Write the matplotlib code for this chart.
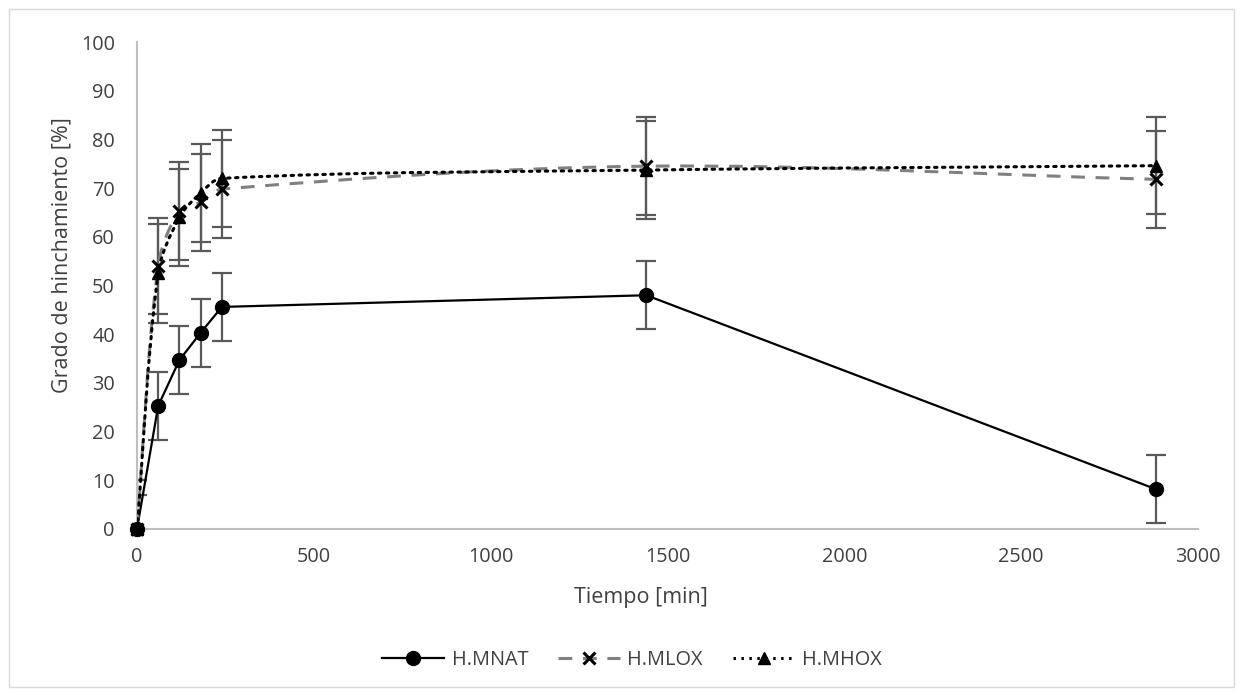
import numpy as np
import matplotlib
matplotlib.use("Agg")
import matplotlib.pyplot as plt
from matplotlib.path import Path
from matplotlib.patches import PathPatch, Rectangle
from matplotlib.lines import Line2D

# ---- data ----
tiempo = [0, 60, 120, 180, 240, 1440, 2880]
h_mnat = [0, 25.3, 34.7, 40.3, 45.6, 48.0, 8.2]
h_mlox = [0, 54.0, 65.3, 67.1, 69.8, 74.5, 71.8]
h_mhox = [0, 52.5, 64.0, 69.0, 72.0, 73.7, 74.6]
err_mnat = [7, 7, 7, 7, 7, 7, 7]
err_mlox = [10, 9.8, 10, 10, 10, 10, 10]
err_mhox = [10, 10.1, 10, 10, 10, 10, 10]
series_names = ["H.MNAT", "H.MLOX", "H.MHOX"]
x_ticks = [0, 500, 1000, 1500, 2000, 2500, 3000]
y_ticks = [0, 10, 20, 30, 40, 50, 60, 70, 80, 90, 100]

plt.rcParams['font.family'] = ['Open Sans', 'DejaVu Sans']
W, H = 1243, 696
FS = 14.3
LFS = 15.5
TXT = '#404040'
fig = plt.figure(figsize=(W / 100, H / 100), dpi=100)
fig.patches.append(Rectangle((9 / W, 9 / H), (W - 18) / W, (H - 18) / H,
                             transform=fig.transFigure, fill=False,
                             edgecolor='#d9d9d9', linewidth=1.0))

ax = fig.add_axes([137 / W, (H - 529) / H, (1198 - 137) / W, (529 - 42) / H])
ax.set_xlim(0, 3000)
ax.set_ylim(0, 100)
ax.set_xticks(x_ticks)
ax.set_yticks(y_ticks)
for s in ['top', 'right']:
    ax.spines[s].set_visible(False)
for s in ['left', 'bottom']:
    ax.spines[s].set_color('#bfbfbf')
    ax.spines[s].set_linewidth(1.5)
ax.tick_params(axis='both', length=0, labelsize=FS, colors=TXT)
ax.tick_params(axis='y', pad=16)
ax.tick_params(axis='x', pad=13)

ecol = '#595959'


def smooth_path(x, y, k=0.33):
    pts = ax.transData.transform(np.column_stack([x, y]))
    n = len(pts)
    tang = []
    for i in range(n):
        d = pts[min(i + 1, n - 1)] - pts[max(i - 1, 0)]
        nrm = np.hypot(*d)
        tang.append(d / nrm if nrm > 0 else d)
    verts = [pts[0]]
    codes = [Path.MOVETO]
    for i in range(n - 1):
        p1 = pts[i]
        p2 = pts[i + 1]
        L = np.hypot(*(p2 - p1))
        c1 = p1 + tang[i] * L * k
        c2 = p2 - tang[i + 1] * L * k
        verts += [c1, c2, p2]
        codes += [Path.CURVE4] * 3
    verts = ax.transData.inverted().transform(np.array(verts))
    return Path(verts, codes)


# error bars
for yv, ev in [(h_mnat, err_mnat), (h_mlox, err_mlox), (h_mhox, err_mhox)]:
    ax.errorbar(tiempo, yv, yerr=ev, fmt='none', ecolor=ecol,
                elinewidth=1.6, capsize=7.5, capthick=1.6, zorder=2)

# lines
ax.plot(tiempo, h_mnat, color='black', linewidth=1.6, zorder=3)
ax.add_patch(PathPatch(smooth_path(tiempo, h_mlox), fill=False,
                       edgecolor='#808080', linewidth=2.2,
                       linestyle=(0, (4.5, 3.5)), zorder=3))
ax.add_patch(PathPatch(smooth_path(tiempo, h_mhox), fill=False,
                       edgecolor='black', linewidth=2.2,
                       linestyle=(0, (0.8, 1.8)), zorder=3, capstyle='round'))

# markers
ax.plot(tiempo, h_mnat, linestyle='none', marker='o', markersize=10,
        color='black', clip_on=False, zorder=5)
ax.plot(tiempo, h_mlox, linestyle='none', marker='x', markersize=8.5,
        markeredgewidth=2.2, color='black', clip_on=False, zorder=5)
ax.plot(tiempo, h_mhox, linestyle='none', marker='^', markersize=9,
        color='black', clip_on=False, zorder=5)

fig.text(641 / W, 1 - 597 / H, 'Tiempo [min]', ha='center', va='center',
         fontsize=LFS, color=TXT)
fig.text(62 / W, 1 - 255 / H, 'Grado de hinchamiento [%]', rotation=90,
         ha='center', va='center', fontsize=LFS, color=TXT)

handles = [
    Line2D([], [], color='black', linewidth=1.6, marker='o', markersize=10),
    Line2D([], [], color='#808080', linewidth=2.2, linestyle=(0, (4.5, 3.5)),
           marker='x', markersize=8.5, markeredgewidth=2.2,
           markeredgecolor='black'),
    Line2D([], [], color='black', linewidth=2.2, linestyle=(0, (0.8, 1.8)),
           marker='^', markersize=9),
]
fig.legend(handles, series_names, loc='center', ncol=3,
           bbox_to_anchor=(632 / W, 1 - 660 / H), frameon=False,
           fontsize=FS, handlelength=3.1, columnspacing=1.5,
           handletextpad=0.4, labelcolor=TXT)

fig.savefig('out.png', dpi=100)
